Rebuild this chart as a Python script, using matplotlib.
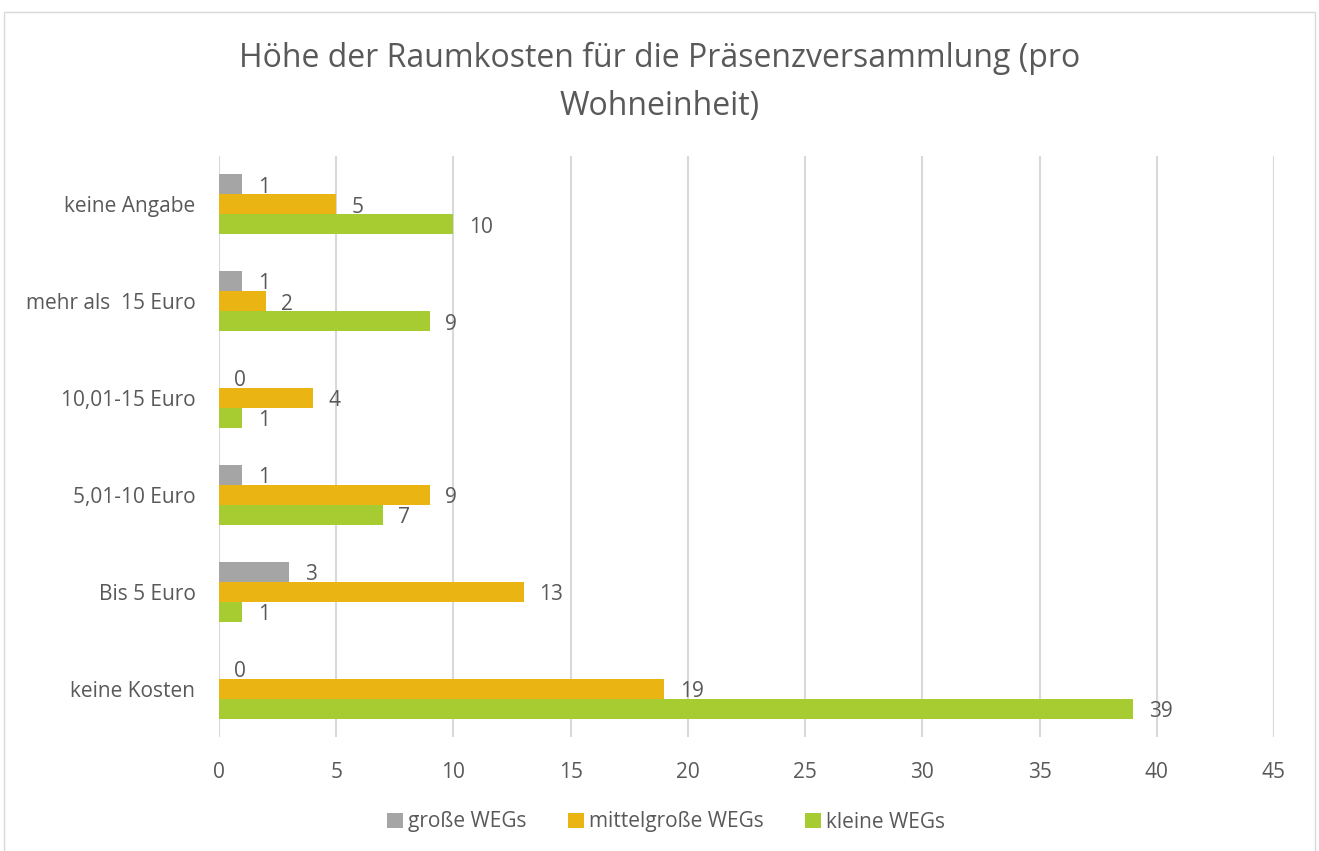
import matplotlib
matplotlib.use("Agg")
import matplotlib.pyplot as plt
from matplotlib.patches import Rectangle
import numpy as np

categories = ["keine Kosten", "Bis 5 Euro", "5,01-10 Euro", "10,01-15 Euro", "mehr als  15 Euro", "keine Angabe"]
series_names = ["große WEGs", "mittelgroße WEGs", "kleine WEGs"]
grosse = [0, 3, 1, 0, 1, 1]
mittel = [19, 13, 9, 4, 2, 5]
kleine = [39, 1, 7, 1, 9, 10]
xticks = [0, 5, 10, 15, 20, 25, 30, 35, 40, 45]
title = "Höhe der Raumkosten für die Präsenzversammlung (pro\nWohneinheit)"

colors = ["#A5A5A5", "#EAB513", "#A6CC31"]
text_color = "#595959"

plt.rcParams['font.family'] = ['Open Sans', 'DejaVu Sans']

fig = plt.figure(figsize=(13.19, 8.51), dpi=100)
W, H = 1319, 851
ax = fig.add_axes([219 / W, 1 - 737 / H, (1274 - 219) / W, (737 - 156) / H])

y = np.arange(len(categories))
h = 0.207
data = [grosse, mittel, kleine]
offsets = [h, 0, -h]
for vals, off, col, name in zip(data, offsets, colors, series_names):
    ax.barh(y + off, vals, height=h, color=col, label=name, zorder=3)
    for yy, v in zip(y + off, vals):
        ax.annotate(str(v), xy=(v, yy), xytext=(11, -2), textcoords="offset points",
                    ha="left", va="center", fontsize=15, color=text_color)

ax.set_xlim(0, 45)
ax.set_ylim(-0.5, len(categories) - 0.5)
ax.set_xticks(xticks)
ax.set_yticks(y)
ax.set_yticklabels(categories)
ax.tick_params(axis="both", length=0, labelsize=15, colors=text_color)
ax.tick_params(axis="x", pad=18)
ax.tick_params(axis="y", pad=17)
ax.grid(axis="x", color="#D9D9D9", linewidth=1.5, zorder=0)
for s in ax.spines.values():
    s.set_visible(False)

fig.text(0.5, 1 - 82 / H, title, ha="center", va="center", fontsize=23,
         color=text_color, linespacing=1.6)

fig.legend(loc="center", bbox_to_anchor=(0.505, 1 - 822 / H), ncol=3, frameon=False,
           fontsize=15, handlelength=0.75, handleheight=0.75, handletextpad=0.25,
           columnspacing=2.0, labelcolor=text_color)

fig.patches.append(Rectangle((3.5 / W, -0.1), (1315 - 3.5) / W, 1.1 - 11.5 / H,
                             transform=fig.transFigure, fill=False, edgecolor="#D9D9D9",
                             linewidth=1))

fig.savefig("out.png", dpi=100)
